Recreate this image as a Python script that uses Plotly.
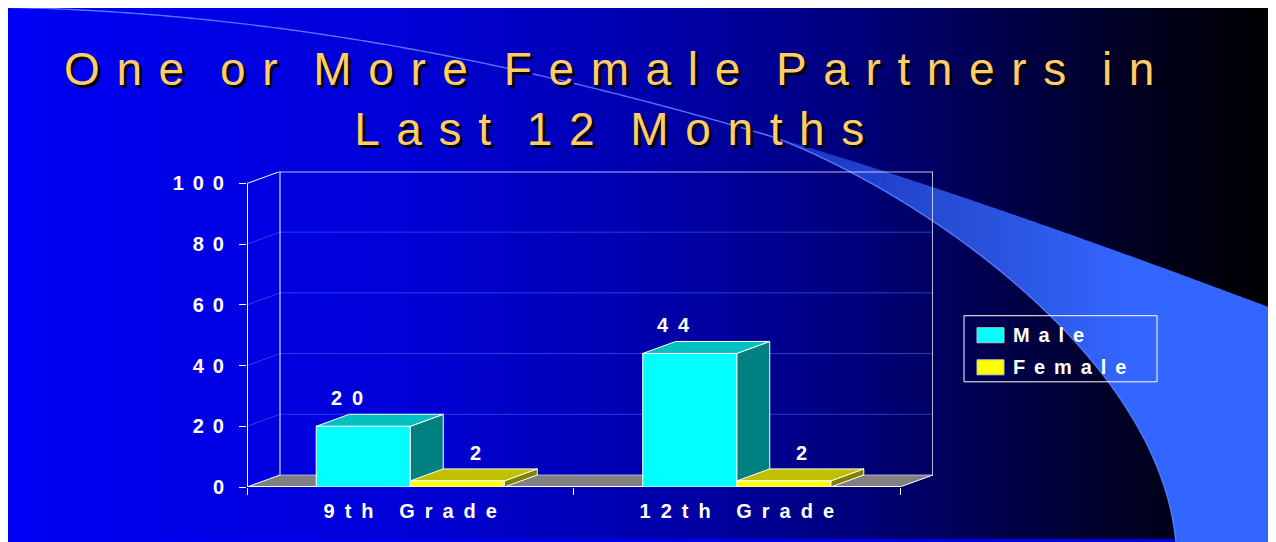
import numpy as np
import plotly.graph_objects as go

# ---------------- data ----------------
categories = ["9th Grade", "12th Grade"]
series_names = ["Male", "Female"]
male_values = [20, 44]
female_values = [2, 2]
y_tick_values = [0, 20, 40, 60, 80, 100]
title_lines = ["One or More Female Partners in", "Last 12 Months"]

# ---------------- styling helpers ----------------
W, H = 1276, 542
FONT = "Liberation Sans, Arial, sans-serif"
OFF = 8          # page margin of the screenshot
S = 0.978        # vertical scale of the screenshot

LS_T, WS_T = "\u00a0\u200a", "\u2002\u00a0"          # title spacing
LS_AX, WS_AX = "\u2002", "\u2002\u2002\u2008"         # category labels
LS_N = "\u00a0\u2006"                                 # numbers / legend


def spaced(text, ls=LS_N, ws="\u2002"):
    return ws.join(ls.join(list(w)) for w in text.split(" "))


def fx(xs):
    return xs - OFF


def fy(ys):
    return ys / S - OFF


def px(xs):  # screenshot x -> paper
    return fx(xs) / W


def py(ys):  # screenshot y -> paper
    return 1 - fy(ys) / H


def rgb(c):
    return "rgb(%d,%d,%d)" % tuple(int(round(v)) for v in c)


# plot geometry (screenshot pixels converted to figure pixels)
FRONT_L, FRONT_R = fx(247), fx(900)
FRONT_B, FRONT_T = fy(486), fy(183)
DEPTH_X, DEPTH_Y = 33, 12 / S
y_max = y_tick_values[-1]
n_cat = len(categories)
cat_px = (FRONT_R - FRONT_L) / n_cat
unit_px = (FRONT_B - FRONT_T) / y_max
dx = DEPTH_X / cat_px
dy = DEPTH_Y / unit_px
x_range = [-0.5, n_cat - 0.5 + dx]
y_range = [0, y_max + dy]
bargap = 0.424
bar_w = (1 - bargap) / 2

front_colors = ["#00FFFF", "#FFFF00"]
top_colors = ["#00C0C0", "#C0C000"]
side_colors = ["#008080", "#808000"]
series_values = [male_values, female_values]

shapes = []

# ---------------- slide background gradient ----------------
stops_x = [7, 400, 640, 850, 1000, 1150, 1276]
stops_b = [245, 215, 175, 125, 75, 30, 0]


def bg(xs):
    return np.array([0.0, 0.0, float(np.interp(xs, stops_x, stops_b))])


edges = np.linspace(OFF, W + OFF, 129)
for a, b in zip(edges[:-1], edges[1:]):
    shapes.append(dict(type="rect", xref="paper", yref="paper", layer="below",
                       x0=px(a), x1=px(b + 1), y0=0, y1=1,
                       fillcolor=rgb(bg((a + b) / 2)), line_width=0))


# ---------------- swoosh ----------------
def bezier(p0, p1, p2, p3, n=300):
    t = np.linspace(0, 1, n)[:, None]
    P = [np.array(p, dtype=float) for p in (p0, p1, p2, p3)]
    return ((1 - t) ** 3) * P[0] + 3 * ((1 - t) ** 2) * t * P[1] + 3 * (1 - t) * t ** 2 * P[2] + t ** 3 * P[3]


def ppath(pts, close=False):
    s = "M " + " L ".join("%.5f,%.5f" % (px(x), py(y)) for x, y in pts)
    return s + (" Z" if close else "")


upper = bezier((0, 7), (450, 15), (850, 150), (1276, 309))
split_x = 775
split_y = float(np.interp(split_x, upper[:, 0], upper[:, 1]))
lower = bezier((split_x, split_y), (930, split_y + 60), (1160, 360), (1176, 542))
band_col = np.array([51, 102, 255], dtype=float)

sl_edges = np.linspace(split_x, 1290, 52)
for a, b in zip(sl_edges[:-1], sl_edges[1:]):
    xs = np.linspace(a, b + 1, 5)
    top = np.interp(xs, upper[:, 0], upper[:, 1], right=309 + (xs[-1] - 1276) * 0.33)
    bot = np.interp(xs, lower[:, 0], lower[:, 1], right=560)
    bot = np.where(xs > lower[-1, 0], 560, bot)
    pts = list(zip(xs, top)) + list(zip(xs[::-1], bot[::-1]))
    c = (a + b) / 2
    alpha = 0.5 + 0.5 * np.clip((c - split_x) / 350, 0, 1)
    col = alpha * band_col + (1 - alpha) * bg(c)
    shapes.append(dict(type="path", xref="paper", yref="paper", layer="below",
                       path=ppath(pts, True), fillcolor=rgb(col), line_width=0))

edge_pts = [p for p in upper if p[0] <= split_x] + list(lower)
shapes.append(dict(type="path", xref="paper", yref="paper", layer="below",
                   path=ppath(edge_pts), line=dict(color="rgba(90,130,255,0.9)", width=1.4)))


# ---------------- 3D chart frame ----------------
def dpath(pts):
    return "M " + " L ".join("%.6f,%.6f" % p for p in pts) + " Z"


def dline(x0, y0, x1, y1, color="white", width=1):
    shapes.append(dict(type="line", xref="x", yref="y", layer="below",
                       x0=x0, y0=y0, x1=x1, y1=y1, line=dict(color=color, width=width)))


xl0, xr0 = -0.5, n_cat - 0.5
shapes.append(dict(type="path", xref="x", yref="y", layer="below",
                   path=dpath([(xl0, 0), (xl0 + dx, dy), (xr0 + dx, dy), (xr0, 0)]),
                   fillcolor="#808080", line_width=0))
grid_col = "rgba(60,120,255,0.55)"
for t in y_tick_values[1:-1]:
    dline(xl0 + dx, t + dy, xr0 + dx, t + dy, grid_col, 1)
    dline(xl0, t, xl0 + dx, t + dy, grid_col, 1)
dline(xl0 + dx, y_max + dy, xr0 + dx, y_max + dy, "rgba(220,220,255,0.85)", 2)
dline(xr0 + dx, dy, xr0 + dx, y_max + dy, "rgba(220,220,255,0.85)", 2)
dline(xl0 + dx, dy, xl0 + dx, y_max + dy, "white", 1)
dline(xl0, y_max, xl0 + dx, y_max + dy, "white", 1)
dline(xl0, 0, xl0, y_max, "white", 2)
dline(xl0, 0, xr0, 0, "white", 2)
dline(xl0, 0, xl0 + dx, dy, "white", 1)
dline(xr0, 0, xr0 + dx, dy, "white", 1)
dline(xl0 + dx, dy, xr0 + dx, dy, "rgba(220,220,255,0.7)", 1)

for i in range(n_cat):
    for s, vals in enumerate(series_values):
        v = vals[i]
        xl = i - (1 - bargap) / 2 + s * bar_w
        xr = xl + bar_w
        shapes.append(dict(type="path", xref="x", yref="y", layer="below",
                           path=dpath([(xr, 0), (xr + dx, dy), (xr + dx, v + dy), (xr, v)]),
                           fillcolor=side_colors[s], line=dict(color="white", width=1)))
        shapes.append(dict(type="path", xref="x", yref="y", layer="below",
                           path=dpath([(xl, v), (xl + dx, v + dy), (xr + dx, v + dy), (xr, v)]),
                           fillcolor=top_colors[s], line=dict(color="white", width=1)))

# ---------------- legend (custom) ----------------
annotations = []
shapes.append(dict(type="rect", xref="paper", yref="paper", layer="above",
                   x0=px(964), x1=px(1157), y0=py(381), y1=py(315),
                   line=dict(color="white", width=1), fillcolor="rgba(0,0,0,0)"))
for k, (name, col) in enumerate(zip(series_names, front_colors)):
    yc = 334.5 + 32 * k
    shapes.append(dict(type="rect", xref="paper", yref="paper", layer="above",
                       x0=px(977), x1=px(1004), y0=py(yc + 7.5), y1=py(yc - 7.5),
                       fillcolor=col, line=dict(color="#C0C0C0", width=1)))
    annotations.append(dict(xref="paper", yref="paper", x=px(1011), y=py(yc),
                            xanchor="left", yanchor="middle", showarrow=False,
                            text=spaced(name), font=dict(family=FONT, size=20, color="white", weight="bold")))

# ---------------- data labels ----------------
label_shift = [-16, 18]
for s, vals in enumerate(series_values):
    for i, v in enumerate(vals):
        xc = i - (1 - bargap) / 2 + (s + 0.5) * bar_w
        annotations.append(dict(xref="x", yref="y", x=xc, y=v, xanchor="center", yanchor="bottom",
                                xshift=label_shift[s], yshift=15, showarrow=False,
                                text=spaced(str(v), ls="\u2002"),
                                font=dict(family=FONT, size=20, color="white", weight="bold")))

# ---------------- title ----------------
annotations.append(dict(xref="paper", yref="paper", x=px(609), y=py(99), xanchor="center", yanchor="middle",
                        showarrow=False, align="center",
                        text="<br>".join(spaced(t, LS_T, WS_T) for t in title_lines),
                        font=dict(family=FONT, size=46, color="#FFCC66", shadow="3px 3px 0px #000000")))

# ---------------- traces ----------------
fig = go.Figure()
x_labels = [spaced(c, LS_AX, WS_AX) for c in categories]
for name, vals, col in zip(series_names, series_values, front_colors):
    fig.add_trace(go.Bar(x=x_labels, y=vals, name=name,
                         marker=dict(color=col, line=dict(color="white", width=1)),
                         showlegend=False, hoverinfo="skip"))

fig.update_layout(
    width=W, height=H, autosize=False,
    margin=dict(l=0, r=0, t=0, b=0),
    paper_bgcolor="#0000F0", plot_bgcolor="rgba(0,0,0,0)",
    barmode="group", bargap=bargap, bargroupgap=0,
    showlegend=False,
    shapes=shapes, annotations=annotations,
    xaxis=dict(domain=[FRONT_L / W, (FRONT_R + DEPTH_X) / W], range=x_range,
               showgrid=False, zeroline=False, showline=False,
               ticks="outside", tickson="boundaries", ticklen=7, tickcolor="white", tickwidth=1,
               tickfont=dict(family=FONT, size=20, color="white", weight="bold"),
               ticklabelstandoff=10, fixedrange=True),
    yaxis=dict(domain=[1 - FRONT_B / H, 1 - (FRONT_T - DEPTH_Y) / H], range=y_range,
               tickvals=y_tick_values, ticktext=[spaced(str(t)) for t in y_tick_values],
               showgrid=False, zeroline=False, showline=False,
               ticks="outside", ticklen=7, tickcolor="white", tickwidth=1,
               tickfont=dict(family=FONT, size=20, color="white", weight="bold"),
               ticklabelstandoff=11, fixedrange=True),
)

fig.write_html("out.html")
